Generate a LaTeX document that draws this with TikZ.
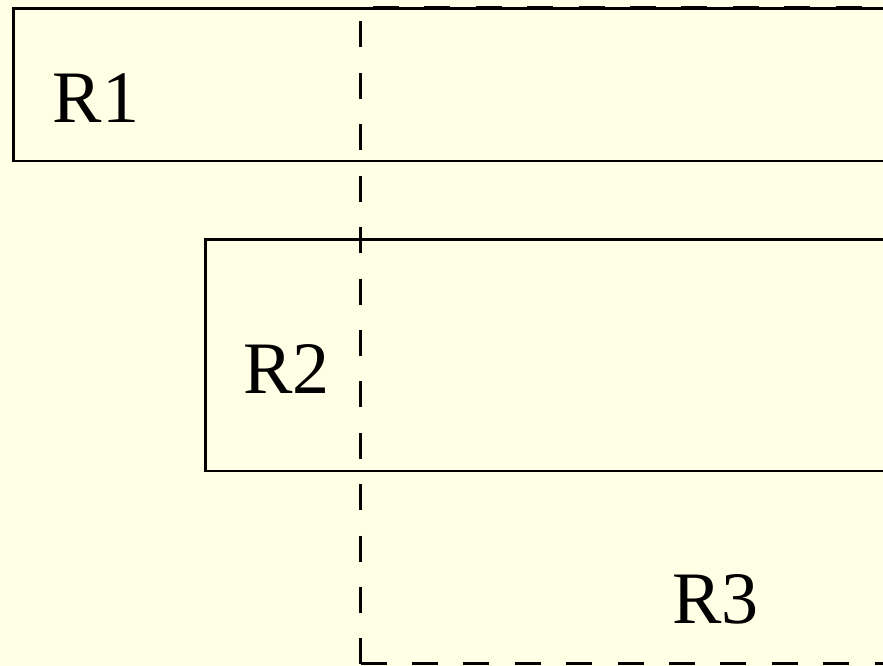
\documentclass[tikz,border=0pt]{standalone}
\usepackage{fontspec}
\setmainfont{Liberation Serif}
\definecolor{paper}{RGB}{255,255,230}
\begin{document}
\begin{tikzpicture}[x=1pt,y=-1pt,
  region/.style={draw=black,line width=2.8pt},
  hidden/.style={draw=black,line width=2.8pt,dash pattern=on 26pt off 25.4pt},
  tag/.style={anchor=base west,inner sep=0pt,font=\fontsize{74}{88}\selectfont}]
  % page area and background
  \useasboundingbox (0,0) rectangle (883,666);
  \fill[paper] (0,0) rectangle (883,666);
  \clip (0,0) rectangle (883,666);
  % region R3 (dashed outline, only left, top and bottom sides visible)
  \coordinate (r3tl) at (360.5,7.5);
  \coordinate (r3bl) at (360.5,663.5);
  \coordinate (r3tr) at (900,7.5);
  \coordinate (r3br) at (900,663.5);
  \draw[hidden,dash phase=38.9pt] (r3tl) -- (r3tr);
  \draw[hidden,dash phase=37.4pt] (r3tl) -- (r3bl);
  \draw[hidden] (r3bl) -- (r3br);
  % region R1
  \draw[region] (900,8.5) -- (13.5,8.5) -- (13.5,161) -- (900,161);
  % region R2
  \draw[region] (900,239.5) -- (205.5,239.5) -- (205.5,471) -- (900,471);
  % labels
  \node[tag] (labR1) at (52.5,123) {R1};
  \node[tag] (labR2) at (243,393) {R2};
  \node[tag] (labR3) at (672,623) {R3};
\end{tikzpicture}
\end{document}
